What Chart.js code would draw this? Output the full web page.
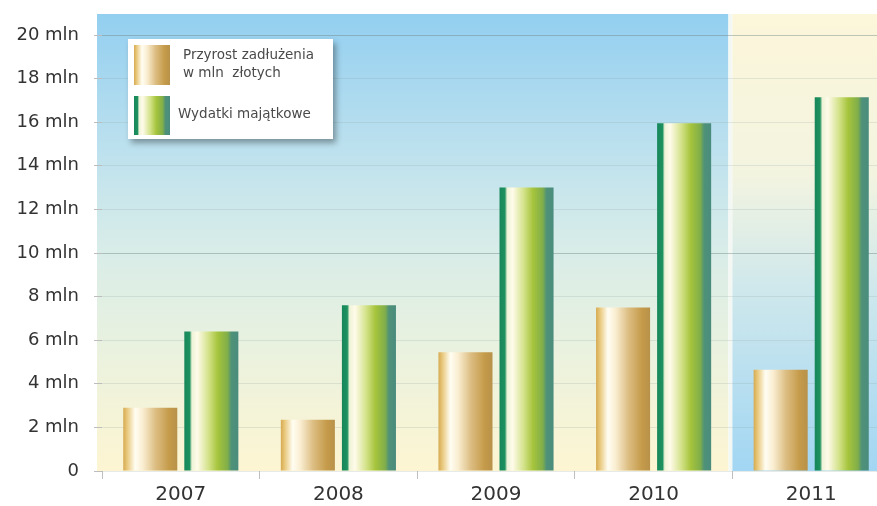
<!DOCTYPE html>
<html>
<head>
<meta charset="utf-8">
<script src="https://cdn.jsdelivr.net/npm/chart.js@4.4.1/dist/chart.umd.min.js"></script>
<style>
  html, body { margin: 0; padding: 0; background: #fff; overflow: hidden; width: 877px; height: 506px; }
  #wrap { width: 890px; height: 506px; }
</style>
</head>
<body>
<div id="wrap"><canvas id="debtChart" width="890" height="506"></canvas></div>
<script>
// years on the x axis
const years = ['2007', '2008', '2009', '2010', '2011'];
// values in mln zł
const debtGrowth = [2.9, 2.35, 5.45, 7.5, 4.65];
const capitalSpending = [6.4, 7.6, 13.0, 15.95, 17.15];
// legend texts (first one is on two lines)
const legendLines = [['Przyrost zadłużenia', 'w mln  złotych'], ['Wydatki majątkowe']];
const yMax = 20;
const yStep = 2;

// horizontal "cylinder" shading for each series
const goldStops = [[0, '#d6aa52'], [0.07, '#e8c77a'], [0.22, '#fffdf2'], [0.36, '#faeed2'], [0.6, '#dcbd82'], [0.85, '#c59b4a'], [1, '#b8914a']];
const greenStops = [[0, '#17875a'], [0.1, '#1e9160'], [0.14, '#eef3d6'], [0.24, '#fffbea'], [0.45, '#d3e289'], [0.62, '#a6c43c'], [0.8, '#80ae4a'], [0.87, '#4f9278'], [1, '#4a8c7d']];

function hGradient(ctx, x0, x1, stops) {
  const g = ctx.createLinearGradient(x0, 0, x1, 0);
  stops.forEach(s => g.addColorStop(s[0], s[1]));
  return g;
}

// gradient for a bar, built from the element's own x/width (known after first layout)
function barFill(c, stops) {
  const el = c.element;
  if (!el || el.x === undefined || isNaN(el.x)) return stops[3][1];
  return hGradient(c.chart.ctx, el.x - el.width / 2, el.x + el.width / 2, stops);
}

// two-part background: blue->cream for 2007-2010, cream->blue for 2011
const backgroundPlugin = {
  id: 'panelBackground',
  beforeDraw(chart) {
    const { ctx, chartArea: a, scales } = chart;
    const top = a.top - 21;
    const left = a.left - 5;
    const split = (scales.x.getPixelForValue(3) + scales.x.getPixelForValue(4)) / 2;
    ctx.save();
    let g = ctx.createLinearGradient(0, top, 0, a.bottom);
    g.addColorStop(0, '#93cff0');
    g.addColorStop(0.3, '#bde1ee');
    g.addColorStop(0.5, '#d7ece9');
    g.addColorStop(0.75, '#ebf2de');
    g.addColorStop(1, '#fdf5d2');
    ctx.fillStyle = g;
    ctx.fillRect(left, top, split - 4 - left, a.bottom - top);
    ctx.fillStyle = '#f4f8f4';
    ctx.fillRect(split - 4, top, 4, a.bottom - top);
    g = ctx.createLinearGradient(0, top, 0, a.bottom);
    g.addColorStop(0, '#fcf6da');
    g.addColorStop(0.35, '#f3f4e0');
    g.addColorStop(0.6, '#cfe8ec');
    g.addColorStop(1, '#a2d6f3');
    ctx.fillStyle = g;
    ctx.fillRect(split, top, a.right - split, a.bottom - top);
    ctx.restore();
  }
};

// boxed legend with shadow, top-left inside the plot
const legendPlugin = {
  id: 'boxLegend',
  afterDatasetsDraw(chart) {
    const ctx = chart.ctx;
    const bx = 128, by = 39, bw = 205, bh = 100;
    ctx.save();
    ctx.shadowColor = 'rgba(0,0,0,0.35)';
    ctx.shadowBlur = 6;
    ctx.shadowOffsetX = 3;
    ctx.shadowOffsetY = 4;
    ctx.fillStyle = '#ffffff';
    ctx.fillRect(bx, by, bw, bh);
    ctx.restore();

    const rows = [
      { y: 45, h: 40, stops: goldStops, tx: 183, ty: [55, 73] },
      { y: 96, h: 39, stops: greenStops, tx: 178, ty: [114] }
    ];
    ctx.save();
    ctx.font = '13.5px "DejaVu Sans"';
    ctx.textBaseline = 'middle';
    rows.forEach((r, i) => {
      ctx.fillStyle = hGradient(ctx, 134, 170, r.stops);
      ctx.fillRect(134, r.y, 36, r.h);
      ctx.fillStyle = '#4a4a4a';
      legendLines[i].forEach((line, k) => ctx.fillText(line, r.tx, r.ty[k]));
    });
    ctx.restore();
  }
};

const ctx = document.getElementById('debtChart').getContext('2d');

const chart = new Chart(ctx, {
  type: 'bar',
  data: {
    labels: years,
    datasets: [
      {
        label: legendLines[0].join(' '),
        data: debtGrowth,
        backgroundColor: c => barFill(c, goldStops),
        borderWidth: 0,
        categoryPercentage: 0.775,
        barPercentage: 0.885
      },
      {
        label: legendLines[1].join(' '),
        data: capitalSpending,
        backgroundColor: c => barFill(c, greenStops),
        borderWidth: 0,
        categoryPercentage: 0.775,
        barPercentage: 0.885
      }
    ]
  },
  options: {
    responsive: false,
    animation: false,
    layout: { padding: { top: 35, right: 0, bottom: -5, left: 0 } },
    plugins: {
      legend: { display: false },
      tooltip: { enabled: true }
    },
    scales: {
      x: {
        grid: { offset: true, drawOnChartArea: false, tickLength: 8, color: '#c0c0c0' },
        border: { display: false },
        ticks: { padding: 5, color: '#333', font: { family: 'DejaVu Sans', size: 20, lineHeight: 1.1 } }
      },
      y: {
        min: 0,
        max: yMax,
        afterFit: scale => { scale.width = 102; },
        border: { display: false },
        grid: {
          tickLength: 8,
          tickColor: '#bdbdbd',
          color: c => (c.tick && (c.tick.value === 10 || c.tick.value === 20)) ? 'rgba(110,135,130,0.45)' : 'rgba(140,165,160,0.22)'
        },
        ticks: {
          stepSize: yStep,
          padding: 15,
          color: '#333',
          font: { family: 'DejaVu Sans', size: 18 },
          callback: v => v === 0 ? '0' : v + ' mln'
        }
      }
    }
  },
  plugins: [backgroundPlugin, legendPlugin]
});

// second pass so the bar gradients can use the laid-out bar positions
chart.update('none');
</script>
</body>
</html>
